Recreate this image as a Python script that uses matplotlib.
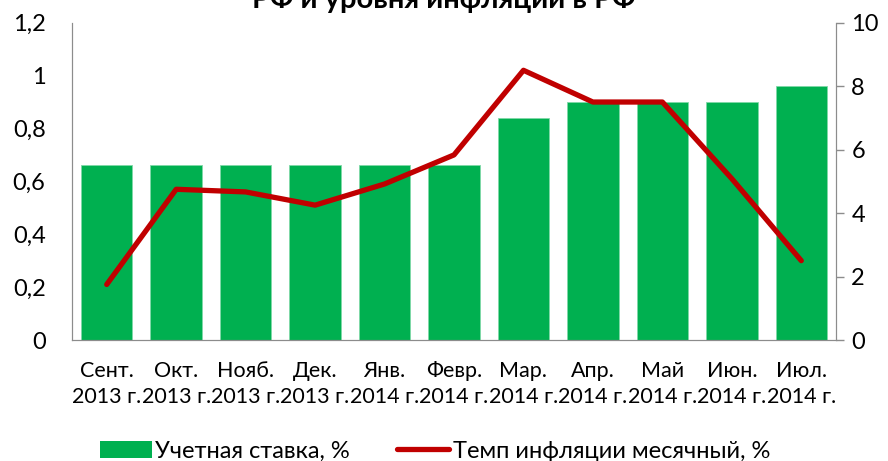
import matplotlib
matplotlib.use("Agg")
import matplotlib.pyplot as plt
from matplotlib.patches import Patch
from matplotlib.lines import Line2D
import numpy as np

plt.rcParams['font.family'] = ['Lato', 'DejaVu Sans']

months = ['Сент.', 'Окт.', 'Нояб.', 'Дек.', 'Янв.', 'Февр.', 'Мар.',
          'Апр.', 'Май', 'Июн.', 'Июл.']
years = ['2013 г.', '2013 г.', '2013 г.', '2013 г.', '2014 г.', '2014 г.',
         '2014 г.', '2014 г.', '2014 г.', '2014 г.', '2014 г.']
rate = [5.5, 5.5, 5.5, 5.5, 5.5, 5.5, 7.0, 7.5, 7.5, 7.5, 8.0]
inflation = [0.21, 0.57, 0.56, 0.51, 0.59, 0.70, 1.02, 0.90, 0.90, 0.61, 0.30]

green = '#00B050'
red = '#C00000'
grey = '#8C8C8C'

fig = plt.figure(figsize=(8.88, 4.61), dpi=100)
ax = fig.add_axes([72/888, 1-340/461, (836-72)/888, (340-22.7)/461])
ax2 = ax.twinx()

x = np.arange(len(months))
ax2.bar(x, rate, width=0.74, color=green, edgecolor='#7FD9A8', linewidth=0.6)
ax.plot(x, inflation, color=red, linewidth=3.8, solid_capstyle='round',
        solid_joinstyle='round')

# line above bars
ax.set_zorder(ax2.get_zorder() + 1)
ax.patch.set_visible(False)

ax.set_xlim(-0.5, len(months) - 0.5)
ax.set_ylim(0, 1.2)
ax2.set_ylim(0, 10)

ax.set_yticks([0, 0.2, 0.4, 0.6, 0.8, 1.0, 1.2])
ax.set_yticklabels(['0', '0,2', '0,4', '0,6', '0,8', '1', '1,2'])
ax2.set_yticks([0, 2, 4, 6, 8, 10])
ax2.set_yticklabels(['0', '2', '4', '6', '8', '10'])

ax.set_xticks(x)
ax.set_xticklabels([m + '\n' + y for m, y in zip(months, years)],
                   fontsize=15.5, linespacing=1.4)

for a in (ax, ax2):
    for s in a.spines.values():
        s.set_color(grey)
    a.spines['top'].set_visible(False)

ax.tick_params(axis='y', length=0, pad=19, labelsize=17)
ax.tick_params(axis='x', length=0, pad=15)
ax2.tick_params(axis='y', length=6, width=1, color=grey, pad=5, labelsize=17)

# title is partly outside the figure, as in the source
fig.text(0.5, 1 - 8/461, 'РФ и уровня инфляции в РФ', ha='center',
         va='baseline', fontsize=21, fontweight='bold')

handles = [Patch(facecolor=green, edgecolor='none'),
           Line2D([0], [0], color=red, linewidth=3.8, solid_capstyle='round')]
fig.legend(handles, ['Учетная ставка, %', 'Темп инфляции месячный, %'],
           loc='center', bbox_to_anchor=(0.49, 1 - 451/461), ncol=2,
           frameon=False, fontsize=17, handlelength=2.2, handletextpad=0.15,
           columnspacing=2.0)

fig.savefig('out.png', dpi=100)
